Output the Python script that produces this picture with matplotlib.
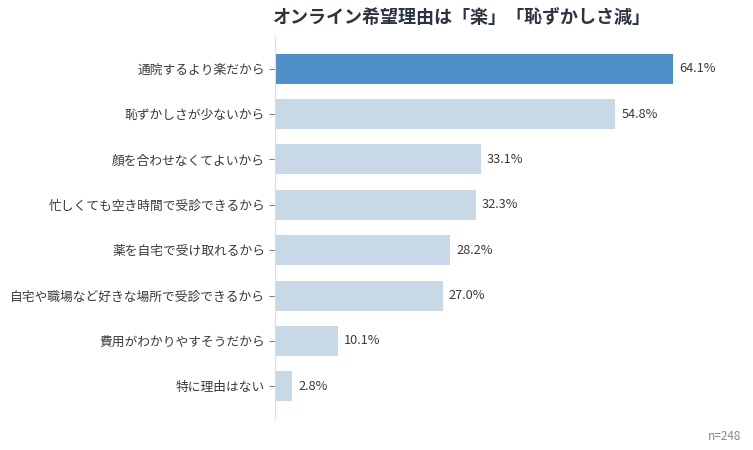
import matplotlib
matplotlib.use("Agg")
from matplotlib import pyplot as plt

plt.rcParams['font.family'] = ['Noto Sans CJK JP', 'DejaVu Sans']

labels = ['通院するより楽だから', '恥ずかしさが少ないから', '顔を合わせなくてよいから',
          '忙しくても空き時間で受診できるから', '薬を自宅で受け取れるから',
          '自宅や職場など好きな場所で受診できるから', '費用がわかりやすそうだから', '特に理由はない']
values = [64.1, 54.8, 33.1, 32.3, 28.2, 27.0, 10.1, 2.8]
colors = ['#5090c8'] + ['#c8d8e7'] * 7

fig = plt.figure(figsize=(7.53, 4.5), dpi=100)
ax = fig.add_axes([0.365, 0.071, 0.619, 0.847])

ypos = range(len(labels))
ax.barh(ypos, values, height=0.66, color=colors)
for y, v in zip(ypos, values):
    ax.text(v + 1.0, y, f'{v:.1f}%', va='center', ha='left', fontsize=9.2, color='#3a3a3a')

ax.set_yticks(list(ypos))
ax.set_yticklabels(labels, fontsize=9.2, color='#3a3a3a')
ax.set_ylim(7.7, -0.7)
ax.set_xlim(0, 75)
ax.set_xticks([])
for s in ['top', 'right', 'bottom']:
    ax.spines[s].set_visible(False)
ax.spines['left'].set_color('#dddddd')
ax.tick_params(axis='y', length=4, color='#888888', pad=3)

fig.text(0.613, 0.962, 'オンライン希望理由は「楽」「恥ずかしさ減」', ha='center', va='center',
         fontsize=13, fontweight='bold', color='#2b3440')
fig.text(0.985, 0.03, 'n=248', ha='right', va='center', fontsize=8.5, color='#888888')

fig.savefig('out.png', dpi=100)
